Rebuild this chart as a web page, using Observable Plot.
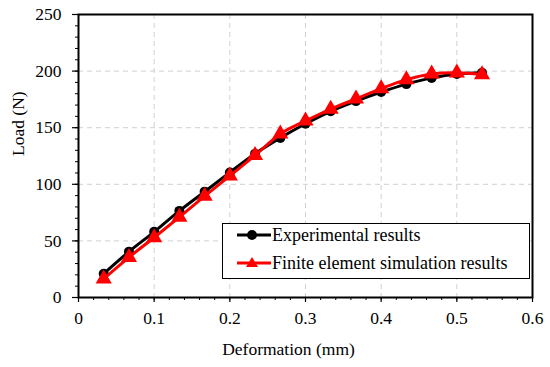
<!DOCTYPE html>
<html><head><meta charset="utf-8">
<script src="https://cdn.jsdelivr.net/npm/d3@7"></script>
<script src="https://cdn.jsdelivr.net/npm/@observablehq/plot@0.6"></script>
<style>
body{margin:0;background:#fff;}
#wrap{position:relative;width:550px;height:367px;font-family:"Liberation Serif","Times New Roman",serif;}
#wrap svg text{font-family:"Liberation Serif","Times New Roman",serif;}
#legend{position:absolute;left:222px;top:223px;width:306px;height:54px;border:1.5px solid #000;background:#fff;font-size:18px;}
#legend .row{position:absolute;left:14px;height:20px;display:flex;align-items:center;white-space:nowrap;}
#legend svg{display:block;}
</style></head>
<body><div id="wrap"><div id="legend"></div></div>
<script>
const deformation = [0.0333,0.0667,0.1,0.1333,0.1667,0.2,0.2333,0.2667,0.3,0.3333,0.3667,0.4,0.4333,0.4667,0.5,0.5333];
const experimental = [21,40.5,58,76.5,93.5,110.5,127,141,153.5,164.5,173.5,181.5,188.5,194,197.5,198.5];
const simulation = [16.5,35.5,53,71,89.5,107.5,125.5,144.5,156,166.5,175.5,184.5,192.5,197.5,198.5,197];
const seriesNames = ["Experimental results","Finite element simulation results"];
const xTicks = [0,0.1,0.2,0.3,0.4,0.5,0.6];
const yTicks = [0,50,100,150,200,250];

const exp = deformation.map((x,i)=>({x, y: experimental[i]}));
const sim = deformation.map((x,i)=>({x, y: simulation[i]}));
const xMinor = d3.range(0,0.6001,0.02).map(v=>+v.toFixed(2));
const yMinor = d3.range(0,250.1,10);
const serif = '"Liberation Serif","Times New Roman",serif';

const chart = Plot.plot({
  width: 550, height: 367,
  marginLeft: 78, marginRight: 18, marginTop: 14, marginBottom: 70,
  style: {fontFamily: serif, fontSize: "17.5px", color: "#000", background: "#fff"},
  x: {domain: [0,0.6]},
  y: {domain: [0,250]},
  marks: [
    Plot.gridX(xTicks.slice(1,-1), {stroke: "#d0d0d0", strokeOpacity: 1, strokeDasharray: "5,4", strokeWidth: 1}),
    Plot.gridY(yTicks.slice(1,-1), {stroke: "#d0d0d0", strokeOpacity: 1, strokeDasharray: "5,4", strokeWidth: 1}),
    Plot.axisX(xMinor, {tickSize: 3, text: null, strokeWidth: 1, label: null}),
    Plot.axisY(yMinor, {tickSize: 3, text: null, strokeWidth: 1, label: null}),
    Plot.axisX(xTicks, {tickSize: 5, tickPadding: 9, strokeWidth: 1.2, fontSize: 17.5, tickFormat: d => d === 0 ? "0" : d3.format(".1f")(d), label: null}),
    Plot.axisY(yTicks, {tickSize: 6, tickPadding: 11, strokeWidth: 1.2, fontSize: 17.5, label: null}),
    Plot.text(["Deformation (mm)"], {frameAnchor: "bottom", dy: 57, dx: -17, fontSize: 17.5}),
    Plot.text(["Load (N)"], {frameAnchor: "left", dx: -60, rotate: -90, fontSize: 17.5}),
    Plot.line(exp, {x: "x", y: "y", stroke: "#000", strokeWidth: 3, curve: "catmull-rom"}),
    Plot.dot(exp, {x: "x", y: "y", fill: "#000", r: 5, symbol: "circle"}),
    Plot.line(sim, {x: "x", y: "y", stroke: "#ff0000", strokeWidth: 3, curve: "catmull-rom"}),
    Plot.dot(sim, {x: "x", y: "y", fill: "#ff0000", r: 6, symbol: "triangle"}),
    Plot.frame({stroke: "#000", strokeWidth: 2})
  ]
});
document.getElementById("wrap").prepend(chart);

const legend = document.getElementById("legend");
const colors = ["#000","#ff0000"];
const tops = [1, 29];
seriesNames.forEach((name,i)=>{
  const row = document.createElement("div");
  row.className = "row";
  row.style.top = tops[i] + "px";
  const marker = i === 0
    ? `<circle cx="15" cy="10" r="5" fill="#000"/>`
    : `<path d="M15,4 L21,14 L9,14 Z" fill="#ff0000"/>`;
  row.innerHTML = `<svg width="34" height="20"><line x1="0" y1="10" x2="34" y2="10" stroke="${colors[i]}" stroke-width="3"/>${marker}</svg><span style="margin-left:1px">${name}</span>`;
  legend.appendChild(row);
});
</script></body></html>
